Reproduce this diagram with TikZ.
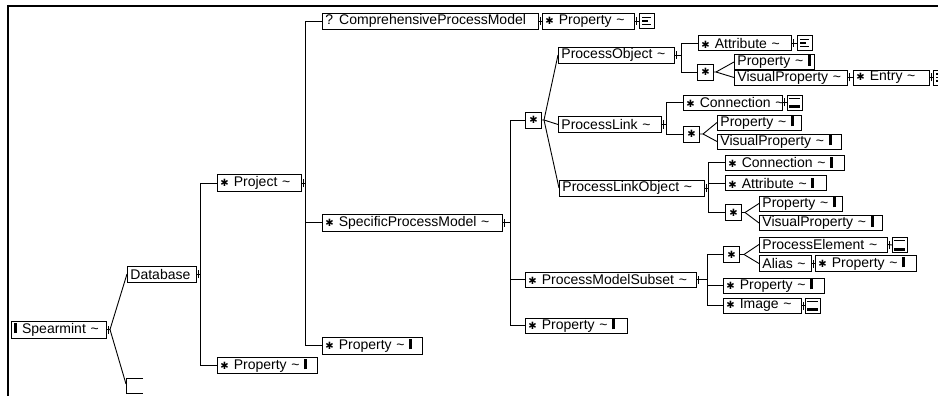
\documentclass[tikz,border=0pt]{standalone}
\usepackage{fontspec}
\setmainfont{Liberation Sans}
\newfontfamily\symfont{DejaVu Sans}
\usetikzlibrary{calc}
\newcommand{\Ast}{{\symfont\fontsize{10}{10}\selectfont ✱}}
\newcommand{\Aw}{\Ast\hspace{5pt}}
\newcommand{\TBar}{\rule[0pt]{3pt}{10.5pt}}
\newcommand{\Tl}{\textasciitilde}
\newcommand{\lnk}[2]{\draw[ln] (#1.east) -- (#2.west); \draw[ln] ($(#1.east)+(1.5pt,-4pt)$) -- ++(0pt,8pt);}
\newcommand{\tck}[1]{\draw[ln] ($(#1.east)+(1.5pt,-4pt)$) -- ++(0pt,8pt);}
\begin{document}
\begin{tikzpicture}[x=1pt,y=-1pt,
  font=\fontsize{14}{16}\selectfont,
  bx/.style={draw, line width=0.9pt, anchor=west, inner xsep=3pt, inner ysep=0pt, minimum height=15pt, text width=#1, align=left,
    execute at begin node={\leavevmode\hbox\bgroup}, execute at end node={\egroup}},
  sq/.style={draw, line width=0.9pt, anchor=west, minimum width=16pt, minimum height=16pt, inner sep=0pt},
  ln/.style={line width=0.9pt},
  linesicon/.style={draw, line width=0.9pt, anchor=west, minimum width=15pt, minimum height=15pt, inner sep=0pt,
    path picture={\draw[line width=1.4pt] ($(path picture bounding box.north west)+(3pt,-4pt)$) -- ++(9pt,0pt)
      ($(path picture bounding box.north west)+(3pt,-7.5pt)$) -- ++(6pt,0pt)
      ($(path picture bounding box.north west)+(3pt,-11pt)$) -- ++(9pt,0pt);}},
  baricon/.style={draw, line width=0.9pt, anchor=west, minimum width=15pt, minimum height=15pt, inner sep=0pt,
    path picture={\draw[line width=0.9pt] ($(path picture bounding box.north west)+(2pt,-3pt)$) -- ++(11pt,0pt);
      \fill ($(path picture bounding box.north west)+(2pt,-10pt)$) rectangle ++(11pt,-3pt);}}
]
\useasboundingbox (0,0) rectangle (938,396);
\clip (0,0) rectangle (938,396);
% frame
\draw[line width=1.2pt] (9,6) -- (938,6);
\draw[line width=1.2pt] (8,5) -- (8,396);

% nodes
\node[bx=89pt, minimum height=17pt] (spear) at (11,329.5) {\TBar\ Spearmint \Tl};
\node[bx=63pt, minimum height=16pt] (db) at (127,274) {Database};
\node[bx=78pt, minimum height=17pt] (proj) at (217,183) {\Aw Project \Tl};
\node[bx=94pt, minimum height=16pt] (dbprop) at (217,365.5) {\Aw Property \Tl\ \TBar};
\node[bx=210pt, minimum height=16pt] (comp) at (322,21) {?\hspace{6pt}ComprehensiveProcessModel};
\node[bx=86pt, minimum height=16pt] (compprop) at (542,21) {\Aw Property \Tl};
\node[linesicon] (compicon) at (639,21) {};
\node[bx=174pt, minimum height=17pt] (spm) at (322,222.5) {\Aw SpecificProcessModel \Tl};
\node[bx=94pt, minimum height=17pt] (projprop) at (322,345.5) {\Aw Property \Tl\ \TBar};
\node[sq] (c1) at (525,120) {\Ast};
\node[bx=110pt, minimum height=16pt] (pobj) at (558,55) {ProcessObject \Tl};
\node[bx=87pt] (pattr) at (698,43) {\Aw Attribute \Tl};
\node[linesicon] (pattricon) at (797,43) {};
\node[sq] (c2) at (697,72) {\Ast};
\node[bx=74pt] (pprop) at (734,62) {Property \Tl\ \TBar};
\node[bx=107pt] (pvis) at (734,77.5) {VisualProperty \Tl};
\node[bx=70pt] (pentry) at (853,77.5) {\Aw Entry \Tl};
\node[linesicon] (pentryicon) at (933,77.5) {};
\node[bx=97pt, minimum height=16pt] (plink) at (558,124.5) {ProcessLink \Tl};
\node[bx=93pt] (pconn) at (683,102.5) {\Aw Connection \Tl};
\node[baricon] (pconnicon) at (787,102.5) {};
\node[sq] (c3) at (683,134) {\Ast};
\node[bx=78pt] (plprop) at (717,122.5) {Property \Tl\ \TBar};
\node[bx=118pt] (plvis) at (717,141.5) {VisualProperty \Tl\ \TBar};
\node[bx=139pt, minimum height=16pt] (plo) at (559,188) {ProcessLinkObject \Tl};
\node[bx=113pt] (ploconn) at (725,162.5) {\Aw Connection \Tl\ \TBar};
\node[bx=95pt] (ploattr) at (725,183) {\Aw Attribute \Tl\ \TBar};
\node[sq] (c4) at (725,212.5) {\Ast};
\node[bx=77pt] (ploprop) at (759,203.5) {Property \Tl\ \TBar};
\node[bx=117pt] (plovis) at (759,223) {VisualProperty \Tl\ \TBar};
\node[bx=165pt] (pms) at (525,279.5) {\Aw ProcessModelSubset \Tl};
\node[sq] (c5) at (723,254.5) {\Ast};
\node[bx=122pt] (pelem) at (759,244.5) {ProcessElement \Tl};
\node[baricon] (pelemicon) at (892,245) {};
\node[bx=46pt, minimum height=16pt] (alias) at (759,263.5) {Alias \Tl};
\node[bx=95pt, minimum height=16pt] (aliasprop) at (815,263.5) {\Aw Property \Tl\ \TBar};
\node[bx=95pt] (pmsprop) at (723,285.5) {\Aw Property \Tl\ \TBar};
\node[bx=72pt] (pmsimg) at (723,305.5) {\Aw Image \Tl};
\node[baricon] (pmsimgicon) at (805,305.5) {};
\node[bx=96pt] (spmprop) at (525,325.5) {\Aw Property \Tl\ \TBar};

% root
\coordinate (sf) at (110,329.5);
\coordinate (brk) at (126,384);
\tck{spear}
\draw[ln] (spear.east) -- (sf) -- (db.west);
\draw[ln] (sf) -- (brk);
\draw[ln] (143,378) -- (126,378) -- (126,393) -- (143,393);

% Database
\coordinate (v1) at (200,274);
\tck{db}
\draw[ln] (db.east) -- (v1);
\draw[ln] (proj.west) -- (proj.west -| v1) -- (dbprop.west -| v1) -- (dbprop.west);

% Project
\coordinate (v2) at (305,183);
\tck{proj}
\draw[ln] (proj.east) -- (v2);
\draw[ln] (comp.west) -- (comp.west -| v2) -- (projprop.west -| v2) -- (projprop.west);
\draw[ln] (spm.west) -- (spm.west -| v2);
\lnk{comp}{compprop}
\lnk{compprop}{compicon}

% SpecificProcessModel
\coordinate (v3) at (510,222.5);
\tck{spm}
\draw[ln] (spm.east) -- (v3);
\draw[ln] (c1.west) -- (c1.west -| v3) -- (spmprop.west -| v3) -- (spmprop.west);
\draw[ln] (pms.west) -- (pms.west -| v3);
\coordinate (f1) at (544,120);
\draw[ln] (c1.east) -- (f1) -- (pobj.west);
\draw[ln] (f1) -- (plink.west);
\draw[ln] (f1) -- (plo.west);

% ProcessObject
\coordinate (v4) at (681,55);
\tck{pobj}
\draw[ln] (pobj.east) -- (v4);
\draw[ln] (pattr.west) -- (pattr.west -| v4) -- (c2.west -| v4) -- (c2.west);
\lnk{pattr}{pattricon}
\coordinate (f2) at (716,72);
\draw[ln] (c2.east) -- (f2) -- (pprop.west);
\draw[ln] (f2) -- (pvis.west);
\lnk{pvis}{pentry}
\lnk{pentry}{pentryicon}

% ProcessLink
\coordinate (v5) at (666,124.5);
\tck{plink}
\draw[ln] (plink.east) -- (v5);
\draw[ln] (pconn.west) -- (pconn.west -| v5) -- (c3.west -| v5) -- (c3.west);
\lnk{pconn}{pconnicon}
\coordinate (f3) at (703,134);
\draw[ln] (c3.east) -- (f3) -- (plprop.west);
\draw[ln] (f3) -- (plvis.west);

% ProcessLinkObject
\coordinate (v6) at (708,188);
\tck{plo}
\draw[ln] (plo.east) -- (v6);
\draw[ln] (ploconn.west) -- (ploconn.west -| v6) -- (c4.west -| v6) -- (c4.west);
\draw[ln] (ploattr.west) -- (ploattr.west -| v6);
\coordinate (f4) at (745,212.5);
\draw[ln] (c4.east) -- (f4) -- (ploprop.west);
\draw[ln] (f4) -- (plovis.west);

% ProcessModelSubset
\coordinate (v7) at (707,279.5);
\tck{pms}
\draw[ln] (pms.east) -- (v7);
\draw[ln] (c5.west) -- (c5.west -| v7) -- (pmsimg.west -| v7) -- (pmsimg.west);
\draw[ln] (pmsprop.west) -- (pmsprop.west -| v7);
\coordinate (f5) at (744,254.5);
\draw[ln] (c5.east) -- (f5) -- (pelem.west);
\draw[ln] (f5) -- (alias.west);
\lnk{pelem}{pelemicon}
\lnk{alias}{aliasprop}
\lnk{pmsimg}{pmsimgicon}
\end{tikzpicture}
\end{document}
